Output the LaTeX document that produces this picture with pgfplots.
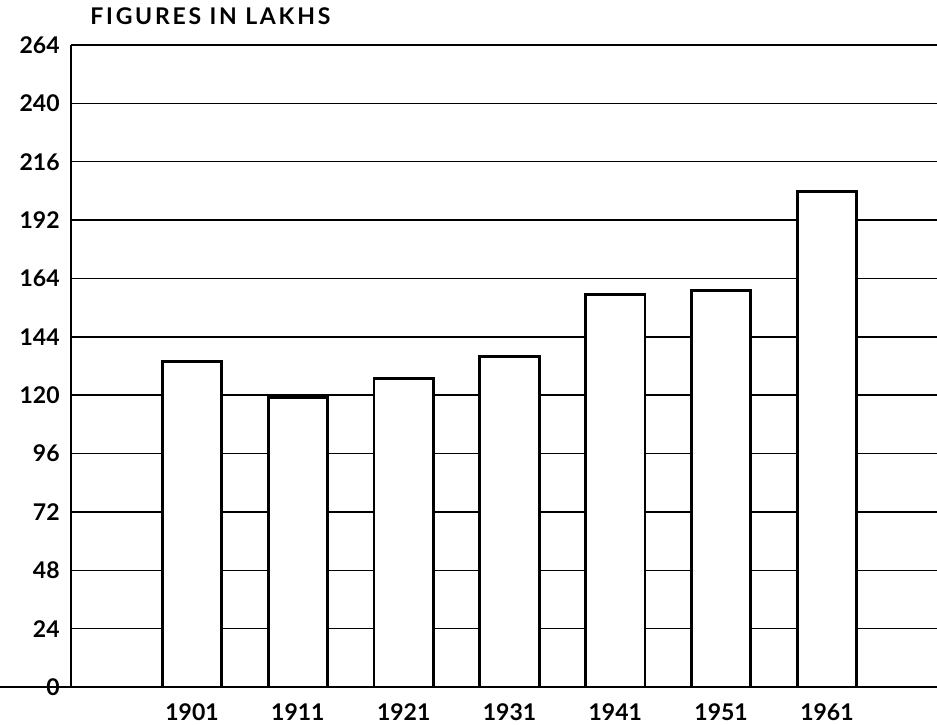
\documentclass[border=0pt]{standalone}
\usepackage{pgfplots}
\pgfplotsset{compat=1.18}
\usepackage{fontspec}
\setmainfont{Lato}
\newfontfamily\titlefont[LetterSpace=12]{Lato}

\begin{document}
\begin{tikzpicture}
\useasboundingbox (-35.5pt,-18.5pt) rectangle (433pt,343.5pt);
\begin{axis}[
  at={(0,0)}, anchor=south west,
  scale only axis, width=433pt, height=321pt,
  xmin=-1.144, xmax=7.04, ymin=0, ymax=264,
  axis x line=bottom, axis y line=left,
  axis line style={-, line width=0.8pt},
  ytick={0,24,...,264},
  yticklabels={0,24,48,72,96,120,144,164,192,216,240,264},
  ymajorgrids, major grid style={black, line width=0.75pt},
  major tick length=0pt,
  xtick={0,...,6},
  xticklabels={1901,1911,1921,1931,1941,1951,1961},
  tick label style={font=\bfseries\fontsize{11.5}{13}\selectfont},
  yticklabel style={anchor=east, inner sep=0pt, xshift=-5.5pt},
  xticklabel style={anchor=north, inner sep=0pt, yshift=-8pt},
  /pgf/number format/assume math mode=true,
  ybar, bar width=0.56,
]
\addplot[fill=white, draw=black, line width=1.4pt] coordinates {(0,133.7) (1,119) (2,127) (3,136) (4,161.5) (5,163) (6,203.8)};
\end{axis}
\draw[line width=1.2pt] (-35.5pt,0) -- (433pt,0);
\node[anchor=base west, inner sep=0pt, font=\titlefont\bfseries\fontsize{11.5}{13}\selectfont] at (9.5pt,331pt) {FIGURES IN LAKHS};
\end{tikzpicture}
\end{document}
